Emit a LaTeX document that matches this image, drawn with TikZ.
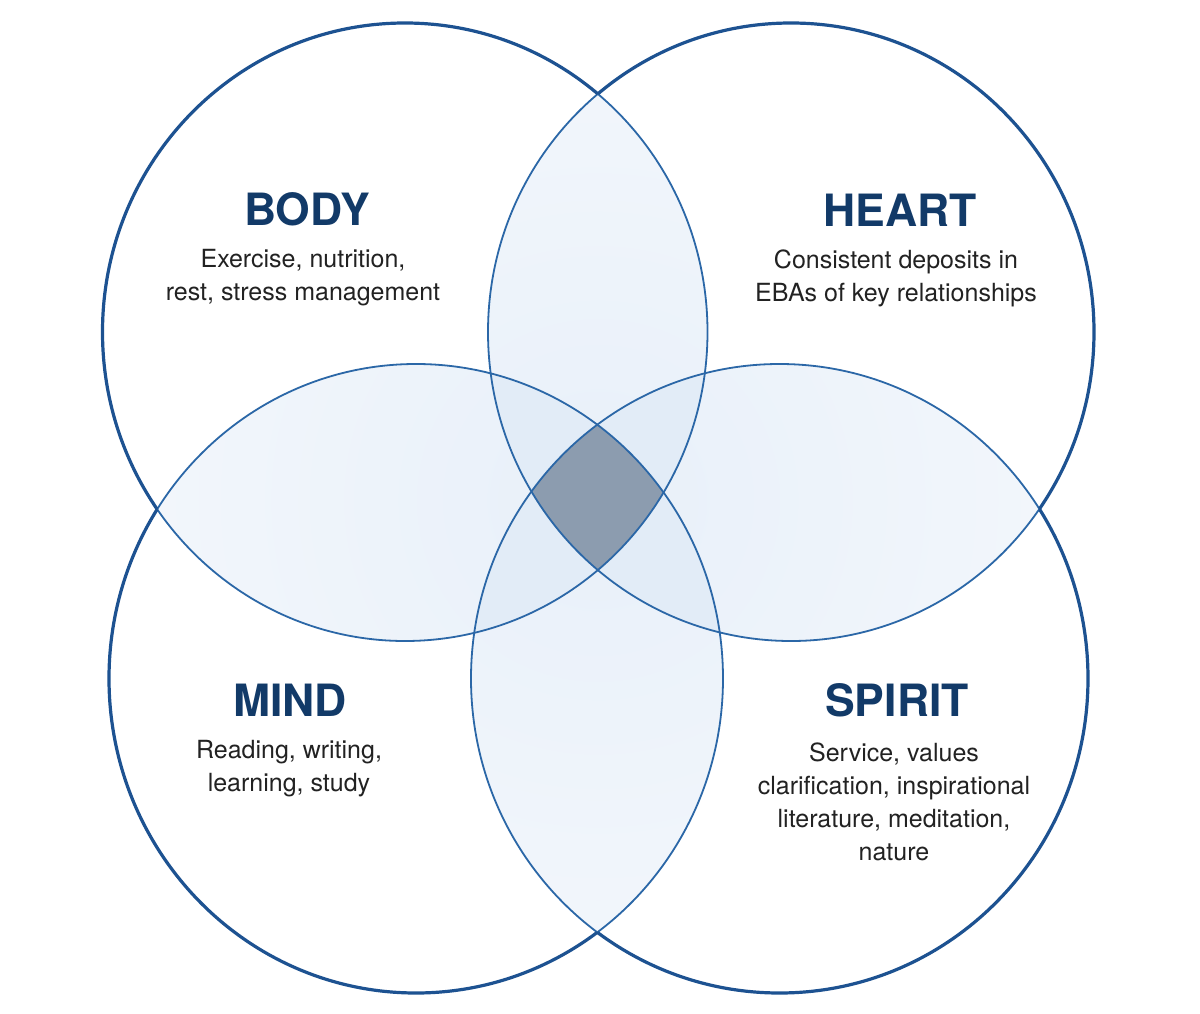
\documentclass[tikz,border=0pt]{standalone}
\usepackage{fontspec}
\setmainfont{TeX Gyre Heros}
\definecolor{edgeout}{HTML}{1D5291}
\definecolor{edgein}{HTML}{2B67A7}
\definecolor{pairin}{HTML}{E8F0F9}
\definecolor{pairout}{HTML}{FAFBFD}
\definecolor{triplefill}{HTML}{E2ECF7}
\definecolor{quadfill}{HTML}{8C9CAF}
\definecolor{titlecol}{HTML}{123A68}
\definecolor{textcol}{HTML}{222222}
\begin{document}
\begin{tikzpicture}[x=1pt,y=-1pt,
  titletext/.style={font=\fontsize{44.5}{54}\selectfont\bfseries, text=titlecol, inner sep=0pt},
  desctext/.style={font=\fontsize{25}{33}\selectfont, text=textcol, align=center, inner sep=0pt},
  innerline/.style={draw=edgein, line width=1.8pt},
  outerline/.style={draw=edgeout, line width=3.2pt},
  pairshade/.style={inner color=pairin, outer color=pairout}]
\useasboundingbox[fill=white] (0,0) rectangle (1200,1014);

% region shapes
\path[save path=\pB] (405,332) ellipse [x radius=302.5pt, y radius=309pt];
\path[save path=\pH] (791,332) ellipse [x radius=303pt, y radius=309pt];
\path[save path=\pM] (416,678.5) ellipse [x radius=307pt, y radius=314.5pt];
\path[save path=\pS] (779.5,678.5) ellipse [x radius=308.5pt, y radius=314.5pt];
\coordinate (mid) at (598,500);

% pairwise overlaps
\begin{scope}\clip[use path=\pB]; \clip[use path=\pH]; \shade[pairshade] (mid) circle (800pt); \end{scope}
\begin{scope}\clip[use path=\pB]; \clip[use path=\pM]; \shade[pairshade] (mid) circle (800pt); \end{scope}
\begin{scope}\clip[use path=\pH]; \clip[use path=\pS]; \shade[pairshade] (mid) circle (800pt); \end{scope}
\begin{scope}\clip[use path=\pM]; \clip[use path=\pS]; \shade[pairshade] (mid) circle (800pt); \end{scope}

% triple overlaps
\begin{scope}\clip[use path=\pB]; \clip[use path=\pH]; \fill[triplefill, use path=\pM]; \end{scope}
\begin{scope}\clip[use path=\pB]; \clip[use path=\pH]; \fill[triplefill, use path=\pS]; \end{scope}
\begin{scope}\clip[use path=\pB]; \clip[use path=\pM]; \fill[triplefill, use path=\pS]; \end{scope}
\begin{scope}\clip[use path=\pH]; \clip[use path=\pM]; \fill[triplefill, use path=\pS]; \end{scope}

% all four
\begin{scope}\clip[use path=\pB]; \clip[use path=\pH]; \clip[use path=\pM]; \fill[quadfill, use path=\pS]; \end{scope}

% inner outlines
\path[innerline, use path=\pB];
\path[innerline, use path=\pH];
\path[innerline, use path=\pM];
\path[innerline, use path=\pS];

% outer boundary, thicker
\begin{scope}[even odd rule]
  \clip (-20,-20) rectangle (1220,1034) (791,332) ellipse [x radius=303pt, y radius=309pt];
  \clip (-20,-20) rectangle (1220,1034) (416,678.5) ellipse [x radius=307pt, y radius=314.5pt];
  \clip (-20,-20) rectangle (1220,1034) (779.5,678.5) ellipse [x radius=308.5pt, y radius=314.5pt];
  \path[outerline, use path=\pB];
\end{scope}
\begin{scope}[even odd rule]
  \clip (-20,-20) rectangle (1220,1034) (405,332) ellipse [x radius=302.5pt, y radius=309pt];
  \clip (-20,-20) rectangle (1220,1034) (416,678.5) ellipse [x radius=307pt, y radius=314.5pt];
  \clip (-20,-20) rectangle (1220,1034) (779.5,678.5) ellipse [x radius=308.5pt, y radius=314.5pt];
  \path[outerline, use path=\pH];
\end{scope}
\begin{scope}[even odd rule]
  \clip (-20,-20) rectangle (1220,1034) (405,332) ellipse [x radius=302.5pt, y radius=309pt];
  \clip (-20,-20) rectangle (1220,1034) (791,332) ellipse [x radius=303pt, y radius=309pt];
  \clip (-20,-20) rectangle (1220,1034) (779.5,678.5) ellipse [x radius=308.5pt, y radius=314.5pt];
  \path[outerline, use path=\pM];
\end{scope}
\begin{scope}[even odd rule]
  \clip (-20,-20) rectangle (1220,1034) (405,332) ellipse [x radius=302.5pt, y radius=309pt];
  \clip (-20,-20) rectangle (1220,1034) (791,332) ellipse [x radius=303pt, y radius=309pt];
  \clip (-20,-20) rectangle (1220,1034) (416,678.5) ellipse [x radius=307pt, y radius=314.5pt];
  \path[outerline, use path=\pS];
\end{scope}

% labels
\node[titletext] (bodyT) at (307,209) {BODY};
\node[desctext] (bodyD) at (303,278) {Exercise, nutrition,\\rest, stress management};
\node[titletext] (heartT) at (900,210) {HEART};
\node[desctext] (heartD) at (896,278) {Consistent deposits in\\EBAs of key relationships};
\node[titletext] (mindT) at (290,700) {MIND};
\node[desctext] (mindD) at (289,769) {Reading, writing,\\learning, study};
\node[titletext] (spiritT) at (897,700) {SPIRIT};
\node[desctext] (spiritD) at (894,802) {Service, values\\clarification, inspirational\\literature, meditation,\\nature};
\end{tikzpicture}
\end{document}
